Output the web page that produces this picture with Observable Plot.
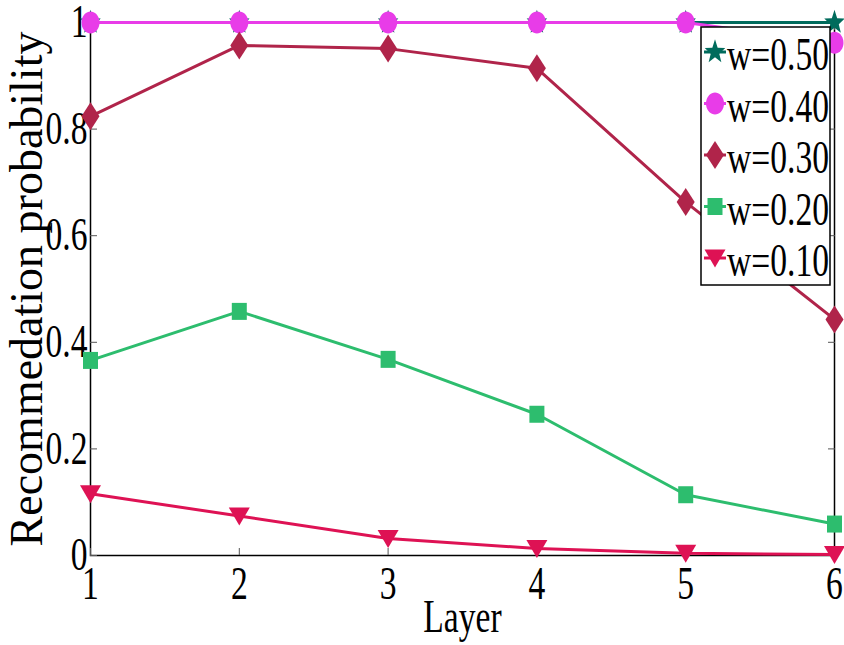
<!DOCTYPE html>
<html>
<head>
<meta charset="utf-8">
<script src="https://cdn.jsdelivr.net/npm/d3@7"></script>
<script src="https://cdn.jsdelivr.net/npm/@observablehq/plot@0.6"></script>
<style>
  html, body { margin: 0; padding: 0; background: #fff; }
  #wrap { position: relative; width: 844px; height: 645px; }
  #legend { position: absolute; left: 0; top: 0; }
</style>
</head>
<body>
<div id="wrap"></div>
<script>
// ---- data ----
const layers = [1, 2, 3, 4, 5, 6];
const seriesNames = ["w=0.50", "w=0.40", "w=0.30", "w=0.20", "w=0.10"];
const w050 = [1, 1, 1, 1, 1, 1];
const w040 = [1, 1, 1, 1, 1, 0.962];
const w030 = [0.824, 0.957, 0.951, 0.914, 0.663, 0.443];
const w020 = [0.366, 0.458, 0.368, 0.265, 0.114, 0.059];
const w010 = [0.116, 0.074, 0.032, 0.013, 0.004, 0.002];
const xTicks = [1, 2, 3, 4, 5, 6];
const yTicks = [0, 0.2, 0.4, 0.6, 0.8, 1];
const yTickLabels = ["0", "0.2", "0.4", "0.6", "0.8", "1"];
const colors = ["#006b5c", "#e83ce8", "#b0244a", "#2dbd6e", "#de1254"];

// ---- custom marker symbols (MATLAB-like) ----
const sym = (fn) => ({ draw(ctx, size) { const r = Math.sqrt(size / Math.PI); fn(ctx, r); } });
const starSym = sym((c, r) => {
  for (let i = 0; i < 10; i++) {
    const a = -Math.PI / 2 + i * Math.PI / 5;
    const k = i % 2 ? 0.45 : 1.08;
    const x = Math.cos(a) * r * k, y = Math.sin(a) * r * k * 1.18;
    i ? c.lineTo(x, y) : c.moveTo(x, y);
  }
  c.closePath();
});
const ellipseSym = sym((c, r) => {
  for (let i = 0; i < 36; i++) {
    const a = i / 36 * 2 * Math.PI;
    const x = Math.cos(a) * r * 0.9, y = Math.sin(a) * r * 1.1;
    i ? c.lineTo(x, y) : c.moveTo(x, y);
  }
  c.closePath();
});
const diamondSym = sym((c, r) => {
  c.moveTo(0, -1.4 * r); c.lineTo(0.9 * r, 0); c.lineTo(0, 1.4 * r); c.lineTo(-0.9 * r, 0); c.closePath();
});
const squareSym = sym((c, r) => {
  c.moveTo(-0.75 * r, -0.85 * r); c.lineTo(0.75 * r, -0.85 * r); c.lineTo(0.75 * r, 0.85 * r); c.lineTo(-0.75 * r, 0.85 * r); c.closePath();
});
const triDownSym = sym((c, r) => {
  c.moveTo(-1.05 * r, -0.85 * r); c.lineTo(1.05 * r, -0.85 * r); c.lineTo(0, 0.95 * r); c.closePath();
});
const symbols = [starSym, ellipseSym, diamondSym, squareSym, triDownSym];

const valuesList = [w050, w040, w030, w020, w010];
const series = seriesNames.map((name, i) => ({
  name, color: colors[i], symbol: symbols[i],
  rows: layers.map((l, j) => ({ layer: l, value: valuesList[i][j] }))
}));

const font = "'Liberation Serif', 'Times New Roman', serif";

const marks = [
  Plot.frame({ stroke: "black", strokeWidth: 1.5 }),
  Plot.axisY(yTicks, { anchor: "left", tickSize: -7, tickPadding: 10, stroke: "#555",
    tickFormat: (d, i) => yTickLabels[i], label: "Recommedation probability", labelArrow: "none",
    labelAnchor: "center", labelOffset: 81, fill: "black" }),
  Plot.axisY(yTicks, { anchor: "right", tickSize: -7, stroke: "#555", tickFormat: () => "", label: null }),
  Plot.axisX(xTicks, { anchor: "bottom", tickSize: -7, tickPadding: 18, stroke: "#555",
    tickFormat: d => String(d), label: "Layer", labelArrow: "none", labelAnchor: "center", labelOffset: 76, fill: "black" }),
  Plot.axisX(xTicks, { anchor: "top", tickSize: -7, stroke: "#555", tickFormat: () => "", label: null })
];
for (const s of series) {
  marks.push(Plot.line(s.rows, { x: "layer", y: "value", stroke: s.color, strokeWidth: 3 }));
  marks.push(Plot.dot(s.rows, { x: "layer", y: "value", fill: s.color, stroke: "none", r: 10, symbol: s.symbol }));
}

const chart = Plot.plot({
  width: 844,
  height: 645,
  marginLeft: 90,
  marginRight: 10,
  marginTop: 22,
  marginBottom: 90,
  style: { fontFamily: font, fontSize: "46px", color: "black", background: "white", overflow: "visible" },
  x: { domain: [1, 6], axis: null },
  y: { domain: [0, 1], axis: null },
  marks
});
const wrap = document.getElementById("wrap");
wrap.appendChild(chart);

// ---- legend (overlay) ----
const lg = d3.select(wrap).append("svg")
  .attr("id", "legend").attr("width", 844).attr("height", 645)
  .style("font-family", font);
const box = { x: 701, y: 27, w: 129, h: 258 };
lg.append("rect").attr("x", box.x).attr("y", box.y).attr("width", box.w).attr("height", box.h)
  .attr("fill", "white").attr("stroke", "black").attr("stroke-width", 1.5);
series.forEach((s, i) => {
  const cy = box.y + 25 + i * 51.5;
  const cx = box.x + 14;
  lg.append("line").attr("x1", cx - 11).attr("x2", cx + 11).attr("y1", cy).attr("y2", cy)
    .attr("stroke", s.color).attr("stroke-width", 3);
  lg.append("path").attr("transform", `translate(${cx},${cy})`)
    .attr("d", d3.symbol(s.symbol, 100 * Math.PI)()).attr("fill", s.color);
  lg.append("text").attr("x", cx + 12).attr("y", cy + 18).attr("font-size", 46)
    .attr("fill", "black").attr("class", "squeeze").text(s.name);
});

// ---- horizontally condensed text, like the original figure ----
function squeeze(t, k) {
  const len = t.getComputedTextLength();
  if (len > 0) {
    t.setAttribute("textLength", (len * k).toFixed(1));
    t.setAttribute("lengthAdjust", "spacingAndGlyphs");
  }
}
chart.querySelectorAll("text").forEach(t => {
  const g = t.closest("g[aria-label]");
  if (g && g.getAttribute("aria-label") === "y-axis label") return;
  squeeze(t, 0.73);
});
document.querySelectorAll("#legend text.squeeze").forEach(t => squeeze(t, 0.73));
</script>
</body>
</html>
